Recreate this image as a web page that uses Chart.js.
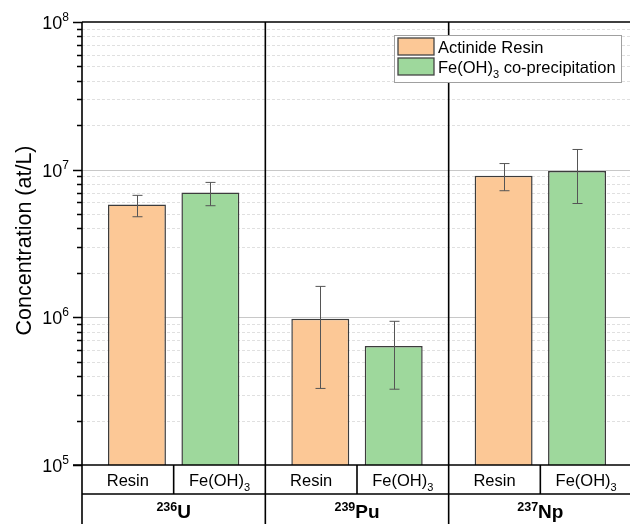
<!DOCTYPE html>
<html><head><meta charset="utf-8">
<script src="https://cdn.jsdelivr.net/npm/chart.js@4/dist/chart.umd.min.js"></script>
<style>html,body{margin:0;padding:0;background:#fff;overflow:hidden;}#wrap{width:630px;height:524px;overflow:hidden;position:relative;}canvas{display:block;}</style>
</head><body><div id="wrap"><canvas id="c" width="634" height="524"></canvas></div>
<script>
// ---- data ----
const isotopeMass = ['236', '239', '237'];
const isotopeSymbol = ['U', 'Pu', 'Np'];
const methodLabels = ['Resin', 'Fe(OH)3'];
const seriesNames = ['Actinide Resin', 'Fe(OH)3 co-precipitation'];
const resinValues = [5.8e6, 9.8e5, 9.1e6];
const resinErrLow = [4.8e6, 3.3e5, 7.2e6];
const resinErrHigh = [6.7e6, 1.62e6, 1.1e7];
const feValues = [7.0e6, 6.4e5, 9.8e6];
const feErrLow = [5.7e6, 3.26e5, 5.9e6];
const feErrHigh = [8.2e6, 9.4e5, 1.37e7];
const yTickExponents = [5, 6, 7, 8];
const yAxisTitle = 'Concentration (at/L)';

const FONT = "'Liberation Sans', Arial, sans-serif";
const resinColor = 'rgb(252,200,150)';
const feColor = 'rgb(158,216,156)';

function richWidth(ctx, parts) {
  let w = 0;
  for (const p of parts) { ctx.font = (p.bold ? 'bold ' : '') + p.size + 'px ' + FONT; w += ctx.measureText(p.t).width; }
  return w;
}
function drawRich(ctx, parts, x, y, align) {
  const w = richWidth(ctx, parts);
  let cx = align === 'center' ? x - w / 2 : align === 'right' ? x - w : x;
  ctx.textAlign = 'left'; ctx.textBaseline = 'alphabetic';
  for (const p of parts) {
    ctx.font = (p.bold ? 'bold ' : '') + p.size + 'px ' + FONT;
    ctx.fillText(p.t, cx, y + (p.dy || 0));
    cx += ctx.measureText(p.t).width;
  }
}
function labelParts(label, size) {
  const m = label.match(/^(.*\))(\d)(.*)$/);
  if (!m) return [{t: label, size: size}];
  return [{t: m[1], size: size}, {t: m[2], size: Math.round(size * 0.68), dy: 5}, {t: m[3], size: size}];
}

const decor = {
  id: 'decor',
  beforeDatasetsDraw(chart) {
    const ctx = chart.ctx, a = chart.chartArea, y = chart.scales.y;
    ctx.save();
    for (let e = yTickExponents[0]; e < yTickExponents[yTickExponents.length - 1]; e++) {
      for (let m = 1; m <= 9; m++) {
        const v = m * Math.pow(10, e);
        const py = Math.round(y.getPixelForValue(v)) + 0.5;
        if (m === 1) {
          if (e === yTickExponents[0]) continue;
          ctx.setLineDash([]); ctx.strokeStyle = '#c8c8c8'; ctx.lineWidth = 1.2;
        } else {
          ctx.setLineDash([3, 2]); ctx.strokeStyle = '#e0e0e0'; ctx.lineWidth = 1;
        }
        ctx.beginPath(); ctx.moveTo(a.left, py); ctx.lineTo(a.right, py); ctx.stroke();
      }
    }
    ctx.restore();
  },
  afterDatasetsDraw(chart) {
    const ctx = chart.ctx, a = chart.chartArea, ys = chart.scales.y, xs = chart.scales.x;
    const H = chart.height;
    ctx.save();
    const lows = [resinErrLow, feErrLow], highs = [resinErrHigh, feErrHigh];
    ctx.strokeStyle = '#555'; ctx.lineWidth = 1;
    for (let d = 0; d < 2; d++) {
      const meta = chart.getDatasetMeta(d);
      meta.data.forEach((bar, i) => {
        const x = Math.round(bar.x) + 0.5;
        const yl = ys.getPixelForValue(lows[d][i]), yh = ys.getPixelForValue(highs[d][i]);
        ctx.beginPath();
        ctx.moveTo(x, yl); ctx.lineTo(x, yh);
        ctx.moveTo(x - 5, yl); ctx.lineTo(x + 5, yl);
        ctx.moveTo(x - 5, yh); ctx.lineTo(x + 5, yh);
        ctx.stroke();
      });
    }
    const catW = (a.right - a.left) / isotopeMass.length;
    ctx.strokeStyle = '#000'; ctx.lineWidth = 1.6;
    ctx.beginPath();
    ctx.moveTo(a.left, a.top); ctx.lineTo(a.right + 2, a.top);
    ctx.moveTo(a.left, a.top); ctx.lineTo(a.left, H);
    ctx.moveTo(a.left - 9, a.bottom); ctx.lineTo(a.right + 2, a.bottom);
    const rowY = a.bottom + 29;
    ctx.moveTo(a.left, rowY); ctx.lineTo(a.right + 2, rowY);
    for (let i = 0; i < isotopeMass.length; i++) {
      const c = xs.getPixelForValue(i);
      const bx = c + catW / 2;
      ctx.moveTo(bx, a.top); ctx.lineTo(bx, H);
      ctx.moveTo(c, a.bottom); ctx.lineTo(c, rowY);
    }
    ctx.stroke();
    ctx.lineWidth = 1.4;
    ctx.beginPath();
    for (let e = yTickExponents[0]; e <= yTickExponents[yTickExponents.length - 1]; e++) {
      for (let m = 1; m <= 9; m++) {
        if (e === yTickExponents[yTickExponents.length - 1] && m > 1) break;
        const py = Math.round(ys.getPixelForValue(m * Math.pow(10, e))) + 0.5;
        const len = m === 1 ? 9 : 5;
        ctx.moveTo(a.left - len, py); ctx.lineTo(a.left, py);
      }
    }
    ctx.stroke();
    ctx.fillStyle = '#000';
    for (const e of yTickExponents) {
      const py = ys.getPixelForValue(Math.pow(10, e));
      drawRich(ctx, [{t: '10', size: 18}, {t: String(e), size: 12, dy: -8}], 69, py + 7, 'right');
    }
    ctx.save();
    ctx.translate(25, (a.top + a.bottom) / 2 - 3);
    ctx.rotate(-Math.PI / 2);
    ctx.font = '21.5px ' + FONT; ctx.textAlign = 'center'; ctx.textBaseline = 'middle';
    ctx.fillText(yAxisTitle, 0, 0);
    ctx.restore();
    for (let i = 0; i < isotopeMass.length; i++) {
      const c = xs.getPixelForValue(i);
      drawRich(ctx, labelParts(methodLabels[0], 16.5), c - catW / 4, a.bottom + 21, 'center');
      drawRich(ctx, labelParts(methodLabels[1], 16.5), c + catW / 4, a.bottom + 21, 'center');
      drawRich(ctx, [{t: isotopeMass[i], size: 12.5, bold: true, dy: -7}, {t: isotopeSymbol[i], size: 19, bold: true}], c, rowY + 24, 'center');
    }
    const lx = 394, ly = 35, lw = 227, lh = 47;
    ctx.fillStyle = '#fff'; ctx.fillRect(lx, ly, lw, lh);
    ctx.strokeStyle = '#a0a0a0'; ctx.lineWidth = 1;
    ctx.strokeRect(lx + 0.5, ly + 0.5, lw, lh);
    const cols = [resinColor, feColor];
    for (let k = 0; k < 2; k++) {
      const sy = ly + 3 + k * 20;
      ctx.fillStyle = cols[k]; ctx.fillRect(398, sy, 36, 17);
      ctx.strokeStyle = '#444'; ctx.lineWidth = 1.3; ctx.strokeRect(398, sy, 36, 17);
      ctx.fillStyle = '#000';
      drawRich(ctx, labelParts(seriesNames[k], 16.5), 438, sy + 14.5, 'left');
    }
    ctx.restore();
  }
};

new Chart(document.getElementById('c'), {
  type: 'bar',
  data: {
    labels: isotopeSymbol,
    datasets: [
      {label: seriesNames[0], data: resinValues, backgroundColor: resinColor, borderColor: '#3c3c3c', borderWidth: 1.5},
      {label: seriesNames[1], data: feValues, backgroundColor: feColor, borderColor: '#3c3c3c', borderWidth: 1.5}
    ]
  },
  options: {
    responsive: false, animation: false, devicePixelRatio: 1,
    layout: {padding: {left: 82, top: 22, right: 2, bottom: 59}},
    categoryPercentage: 0.801, barPercentage: 0.789,
    scales: {
      x: {display: false},
      y: {display: false, type: 'logarithmic', min: 1e5, max: 1e8}
    },
    plugins: {legend: {display: false}, tooltip: {enabled: false}}
  },
  plugins: [decor]
});
</script></body></html>
